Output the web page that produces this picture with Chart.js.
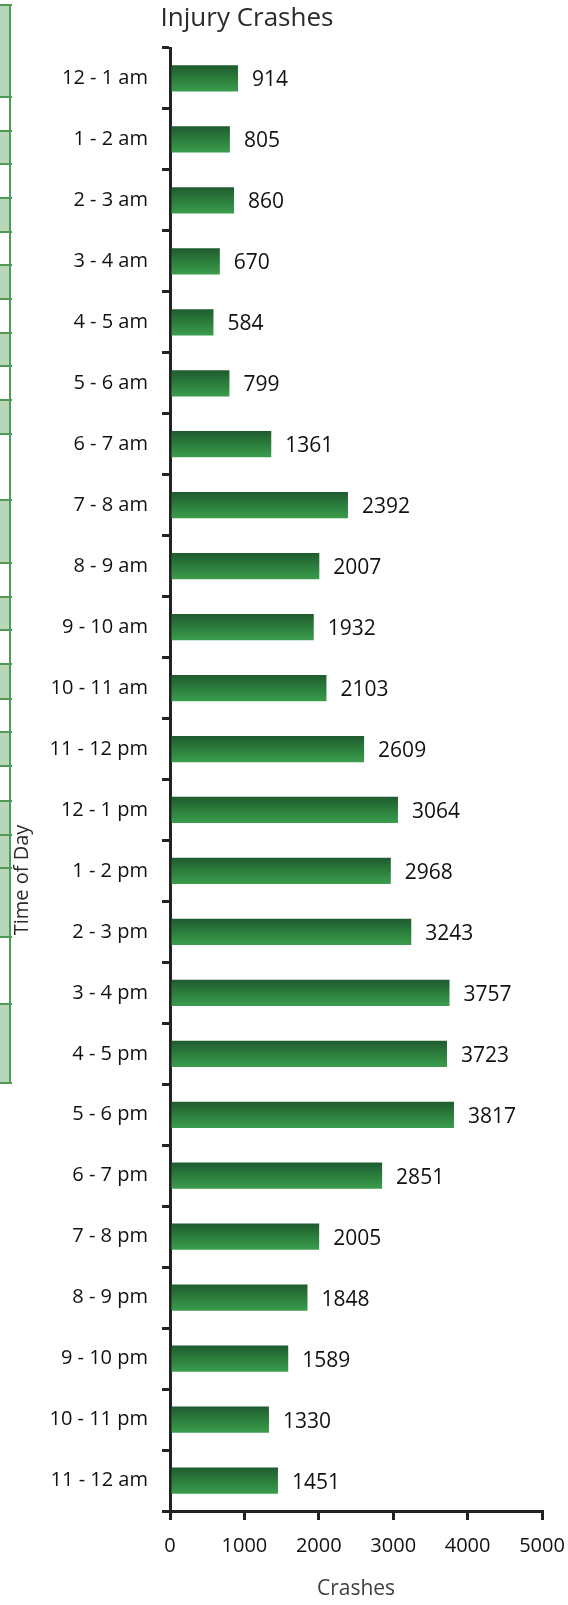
<!DOCTYPE html>
<html>
<head>
<meta charset="utf-8">
<script src="https://cdn.jsdelivr.net/npm/chart.js@4.4.0/dist/chart.umd.min.js"></script>
<style>
  body { margin: 0; background: #fff; }
  #wrap { position: relative; width: 568px; height: 1605px; }
  #strip div { position: absolute; }
  canvas { position: absolute; left: 0; top: 0; }
</style>
</head>
<body>
<div id="wrap"><div id="strip"></div><canvas id="chart" width="568" height="1605"></canvas></div>
<script>
const hours = ['12 - 1 am', '1 - 2 am', '2 - 3 am', '3 - 4 am', '4 - 5 am', '5 - 6 am', '6 - 7 am', '7 - 8 am',
  '8 - 9 am', '9 - 10 am', '10 - 11 am', '11 - 12 pm', '12 - 1 pm', '1 - 2 pm', '2 - 3 pm', '3 - 4 pm',
  '4 - 5 pm', '5 - 6 pm', '6 - 7 pm', '7 - 8 pm', '8 - 9 pm', '9 - 10 pm', '10 - 11 pm', '11 - 12 am'];
const crashes = [914, 805, 860, 670, 584, 799, 1361, 2392, 2007, 1932, 2103, 2609,
  3064, 2968, 3243, 3757, 3723, 3817, 2851, 2005, 1848, 1589, 1330, 1451];
const xTicks = [0, 1000, 2000, 3000, 4000, 5000];
const chartTitle = 'Injury Crashes';
const xTitle = 'Crashes';
const yTitle = 'Time of Day';

// cut-off table border on the left edge (decoration only)
const stripFills = [[5, 97], [131, 164], [198, 232], [265, 299], [333, 366], [400, 434], [500, 563],
  [597, 630], [664, 699], [732, 766], [801, 937], [1004, 1083]];
const stripLines = [5, 97, 131, 164, 198, 232, 265, 299, 333, 366, 400, 434, 500, 563, 597, 630,
  664, 699, 732, 766, 801, 835, 868, 937, 1004, 1083];
const strip = document.getElementById('strip');
stripFills.forEach(([a, b]) => {
  strip.insertAdjacentHTML('beforeend', `<div style="left:0;top:${a}px;width:10px;height:${b - a}px;background:#b8d6b8"></div>`);
});
stripLines.forEach((y) => {
  strip.insertAdjacentHTML('beforeend', `<div style="left:0;top:${y - 1}px;width:12px;height:2px;background:#4f9a55"></div>`);
});
strip.insertAdjacentHTML('beforeend', '<div style="left:9px;top:4px;width:2px;height:1080px;background:#4f9a55"></div>');

const BAR_PCT = 0.43;
const FONT = '"Open Sans", "Noto Sans", sans-serif';
const INK = '#111';

function barFill(ctx) {
  const chart = ctx.chart;
  const y = chart.scales.y;
  if (!y || !y.height || ctx.type !== 'data') return '#2b7e3d';
  const c = y.getPixelForValue(ctx.dataIndex);
  const h = (y.height / hours.length) * BAR_PCT / 2;
  const g = chart.ctx.createLinearGradient(0, c - h, 0, c + h);
  g.addColorStop(0, '#1f5a2f');
  g.addColorStop(0.45, '#2a7a3b');
  g.addColorStop(1, '#3a9d4c');
  return g;
}

const valueLabels = {
  id: 'valueLabels',
  afterDatasetsDraw(chart) {
    const { ctx } = chart;
    const meta = chart.getDatasetMeta(0);
    ctx.save();
    ctx.font = `21px ${FONT}`;
    ctx.fillStyle = INK;
    ctx.textBaseline = 'middle';
    meta.data.forEach((bar, i) => ctx.fillText(String(crashes[i]), bar.x + 14, bar.y + 2));
    ctx.restore();
  }
};

const extraText = {
  id: 'extraText',
  afterDraw(chart) {
    const { ctx, chartArea } = chart;
    ctx.save();
    ctx.fillStyle = '#2a2a2a';
    ctx.textAlign = 'center';
    ctx.textBaseline = 'middle';
    ctx.font = `26px ${FONT}`;
    ctx.fillText(chartTitle, chartArea.left + 77, 19);
    ctx.translate(22, 880);
    ctx.rotate(-Math.PI / 2);
    ctx.font = `20px ${FONT}`;
    ctx.fillText(yTitle, 0, 0);
    ctx.restore();
  }
};

new Chart(document.getElementById('chart'), {
  type: 'bar',
  data: {
    labels: hours,
    datasets: [{ data: crashes, backgroundColor: barFill, barPercentage: BAR_PCT, categoryPercentage: 1 }]
  },
  options: {
    indexAxis: 'y',
    responsive: false,
    animation: false,
    layout: { padding: { top: 48, right: 26, left: 0, bottom: 0 } },
    plugins: { legend: { display: false }, tooltip: { enabled: false } },
    scales: {
      x: {
        min: xTicks[0],
        max: xTicks[xTicks.length - 1],
        afterBuildTicks: (s) => { s.ticks = xTicks.map((v) => ({ value: v })); },
        ticks: { padding: 14, color: INK, maxRotation: 0, font: { size: 20, family: FONT }, callback: (v) => String(v) },
        grid: { drawOnChartArea: false, tickLength: 9, color: '#222', lineWidth: 3 },
        border: { color: '#222', width: 3 },
        title: { display: true, text: xTitle, color: '#404040', font: { size: 21, family: FONT }, padding: { top: 4, bottom: 3 } },
        afterFit: (s) => { s.height = 94; s.paddingLeft = 0; s.paddingRight = 0; }
      },
      y: {
        ticks: { padding: 14, color: INK, font: { size: 20, family: FONT } },
        grid: { offset: true, drawOnChartArea: false, tickLength: 8, color: '#222', lineWidth: 3 },
        border: { color: '#222', width: 3 },
        afterFit: (s) => { s.width = 170; s.paddingTop = 0; s.paddingBottom = 0; }
      }
    }
  },
  plugins: [valueLabels, extraText]
});
</script>
</body>
</html>
